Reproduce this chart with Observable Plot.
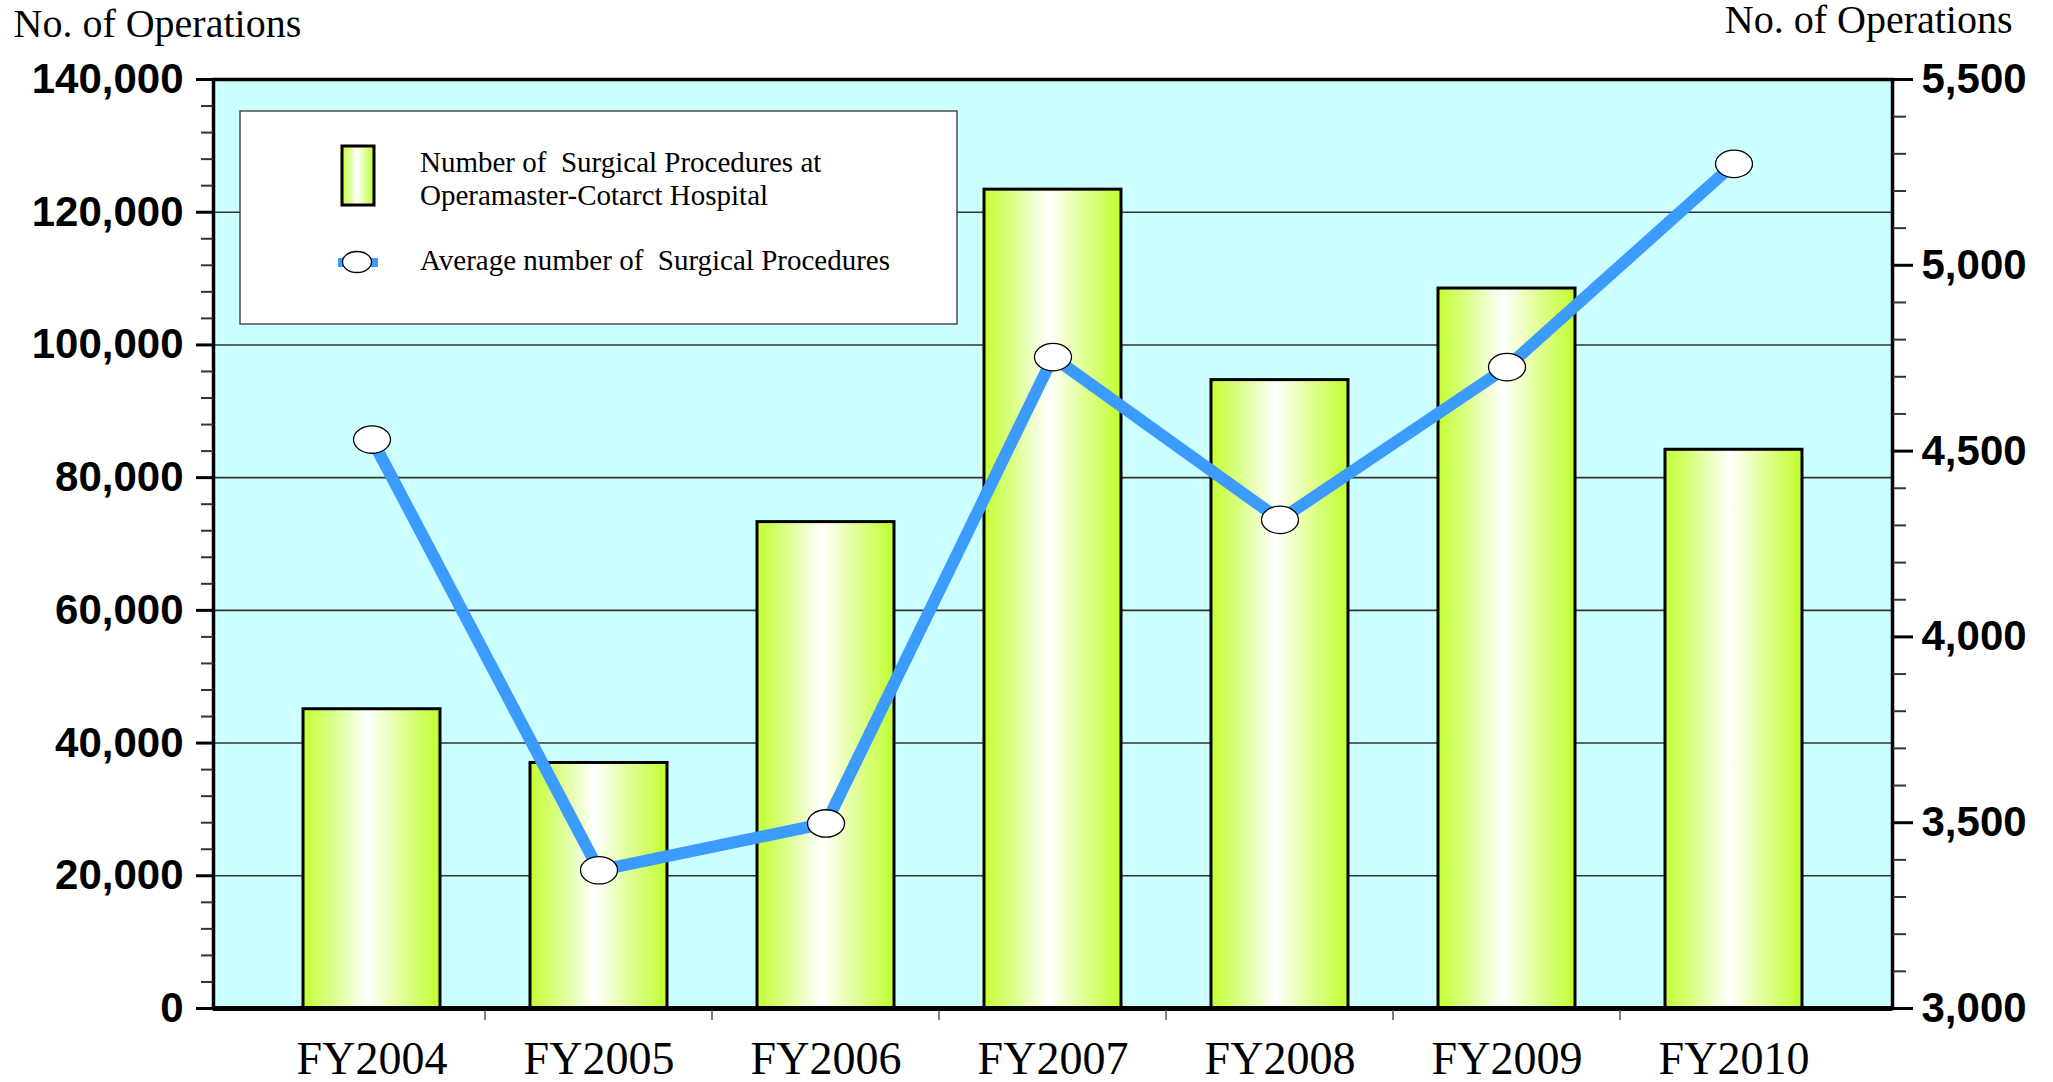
<!DOCTYPE html>
<html>
<head>
<meta charset="utf-8">
<script src="https://cdn.jsdelivr.net/npm/d3@7"></script>
<script src="https://cdn.jsdelivr.net/npm/@observablehq/plot@0.6"></script>
<style>
  html, body { margin: 0; padding: 0; background: #ffffff; }
  #chart svg { display: block; }
</style>
</head>
<body>
<div id="chart"></div>
<script>
// Fiscal years on the category axis
const years = ["FY2004", "FY2005", "FY2006", "FY2007", "FY2008", "FY2009", "FY2010"];
// Operations performed at the hospital (left axis)
const hospitalOps = [45100, 37000, 73300, 123400, 94700, 108500, 84200];
// Average number of operations (right axis)
const averageOps = [4531, 3372, 3498, 4753, 4315, 4726, 5273];
// Axis tick values
const leftTicks = [0, 20000, 40000, 60000, 80000, 100000, 120000, 140000];
const rightTicks = [3000, 3500, 4000, 4500, 5000, 5500];
// Texts
const axisTitle = "No. of Operations";
const legendLabels = [
  "Number of  Surgical Procedures at",
  "Operamaster-Cotarct Hospital",
  "Average number of  Surgical Procedures"
];

// The right axis (3,000–5,500) is mapped onto the left domain (0–140,000)
const L_MAX = 140000, R_MIN = 3000, R_MAX = 5500;
const toLeft = (v) => (v - R_MIN) / (R_MAX - R_MIN) * L_MAX;
const fromLeft = (v) => R_MIN + v / L_MAX * (R_MAX - R_MIN);
const fmt = d3.format(",");

const rows = years.map((year, i) => ({year, ops: hospitalOps[i], avg: averageOps[i]}));

// Ellipse-shaped marker symbol (wider than tall)
const ellipse = {
  draw(ctx, size) {
    const r = Math.sqrt(size / Math.PI);
    const rx = r, ry = r * 0.74, k = 0.5523;
    ctx.moveTo(rx, 0);
    ctx.bezierCurveTo(rx, ry * k, rx * k, ry, 0, ry);
    ctx.bezierCurveTo(-rx * k, ry, -rx, ry * k, -rx, 0);
    ctx.bezierCurveTo(-rx, -ry * k, -rx * k, -ry, 0, -ry);
    ctx.bezierCurveTo(rx * k, -ry, rx, -ry * k, rx, 0);
    ctx.closePath();
  }
};

const sansBold = "'Liberation Sans', Arial, sans-serif";
const serif = "'Liberation Serif', 'Times New Roman', serif";

const minorLeft = d3.range(0, 140001, 4000).filter((v) => v % 20000 !== 0);
const minorRight = d3.range(3000, 5501, 100).filter((v) => v % 500 !== 0).map(toLeft);

const plot = Plot.plot({
  width: 2053,
  height: 1082,
  marginLeft: 213,
  marginRight: 161,
  marginTop: 79,
  marginBottom: 74,
  style: {background: "#ffffff", color: "#000000", fontFamily: serif, overflow: "visible"},
  x: {type: "band", domain: years, paddingInner: 0.396, paddingOuter: 0.392, label: null},
  y: {domain: [0, L_MAX], label: null},
  marks: [
    Plot.frame({fill: "#ccffff", stroke: null}),
    Plot.gridY(leftTicks, {stroke: "#333333", strokeOpacity: 1, strokeWidth: 1.6}),
    Plot.barY(rows, {x: "year", y: "ops", fill: "url(#barGradient)", stroke: "#000000", strokeWidth: 3}),
    Plot.line(rows, {x: "year", y: (d) => toLeft(d.avg), stroke: "#3b9bff", strokeWidth: 12}),
    Plot.dot(rows, {x: "year", y: (d) => toLeft(d.avg), r: 18.5, symbol: ellipse, fill: "#ffffff", stroke: "#000000", strokeWidth: 1.3}),
    Plot.frame({stroke: "#000000", strokeWidth: 3.5}),
    Plot.ruleY([0], {stroke: "#000000", strokeWidth: 5}),
    // left axis
    Plot.axisY(minorLeft, {anchor: "left", tickSize: 12, stroke: "#333333", strokeWidth: 2, tickFormat: () => "", label: null}),
    Plot.axisY(leftTicks, {anchor: "left", tickSize: 17, tickPadding: 13, strokeWidth: 3, tickFormat: fmt,
      fontSize: 42, fontWeight: "bold", fontFamily: sansBold, label: null}),
    // right axis
    Plot.axisY(minorRight, {anchor: "right", tickSize: 13, stroke: "#333333", strokeWidth: 2, tickFormat: () => "", label: null}),
    Plot.axisY(rightTicks.map(toLeft), {anchor: "right", tickSize: 20, tickPadding: 9, strokeWidth: 3,
      tickFormat: (d) => fmt(Math.round(fromLeft(d))), fontSize: 42, fontWeight: "bold", fontFamily: sansBold, label: null}),
    // category axis
    Plot.axisX({tickSize: 0, tickPadding: 33, fontSize: 46, fontFamily: serif, label: null}),
    // axis titles
    Plot.text([axisTitle], {text: (d) => d, frameAnchor: "top-left", dx: -200, dy: -71, textAnchor: "start",
      fontSize: 40, fontFamily: serif}),
    Plot.text([axisTitle], {text: (d) => d, frameAnchor: "top-right", dx: 120, dy: -75, textAnchor: "end",
      fontSize: 40, fontFamily: serif})
  ]
});

document.getElementById("chart").appendChild(plot);

const svg = d3.select(plot);

// Horizontal gradient used by the bars and the legend swatch
const defs = svg.insert("defs", ":first-child");
const grad = defs.append("linearGradient").attr("id", "barGradient")
  .attr("x1", 0).attr("x2", 1).attr("y1", 0).attr("y2", 0);
[[0, "#c4ff33"], [0.22, "#dcff8c"], [0.47, "#ffffff"], [0.72, "#e2ff99"], [1, "#c0ff2e"]]
  .forEach(([o, c]) => grad.append("stop").attr("offset", o).attr("stop-color", c));

// Small ticks between categories under the baseline
const xs = plot.scale("x");
const ys = plot.scale("y");
const y0 = ys.apply(0);
const gap = (xs.step - xs.bandwidth) / 2;
const sep = svg.append("g").attr("stroke", "#555555").attr("stroke-width", 1.5);
years.slice(1).forEach((yr) => {
  const x = xs.apply(yr) - gap;
  sep.append("line").attr("x1", x).attr("x2", x).attr("y1", y0 + 2).attr("y2", y0 + 12);
});

// Legend
const lg = svg.append("g").attr("font-family", serif).attr("font-size", 29)
  .attr("text-anchor", "start").style("white-space", "pre");
lg.append("rect").attr("x", 240).attr("y", 111).attr("width", 717).attr("height", 213)
  .attr("fill", "#ffffff").attr("stroke", "#333333").attr("stroke-width", 1.3);
lg.append("rect").attr("x", 342).attr("y", 146).attr("width", 32).attr("height", 59)
  .attr("fill", "url(#barGradient)").attr("stroke", "#000000").attr("stroke-width", 3);
lg.append("rect").attr("x", 338).attr("y", 258).attr("width", 40).attr("height", 9).attr("fill", "#3b9bff");
lg.append("ellipse").attr("cx", 357).attr("cy", 262).attr("rx", 14.5).attr("ry", 10.5)
  .attr("fill", "#ffffff").attr("stroke", "#000000").attr("stroke-width", 1.3);
[[legendLabels[0], 172], [legendLabels[1], 205], [legendLabels[2], 270]].forEach(([t, y]) => {
  lg.append("text").attr("x", 420).attr("y", y).text(t);
});
</script>
</body>
</html>
